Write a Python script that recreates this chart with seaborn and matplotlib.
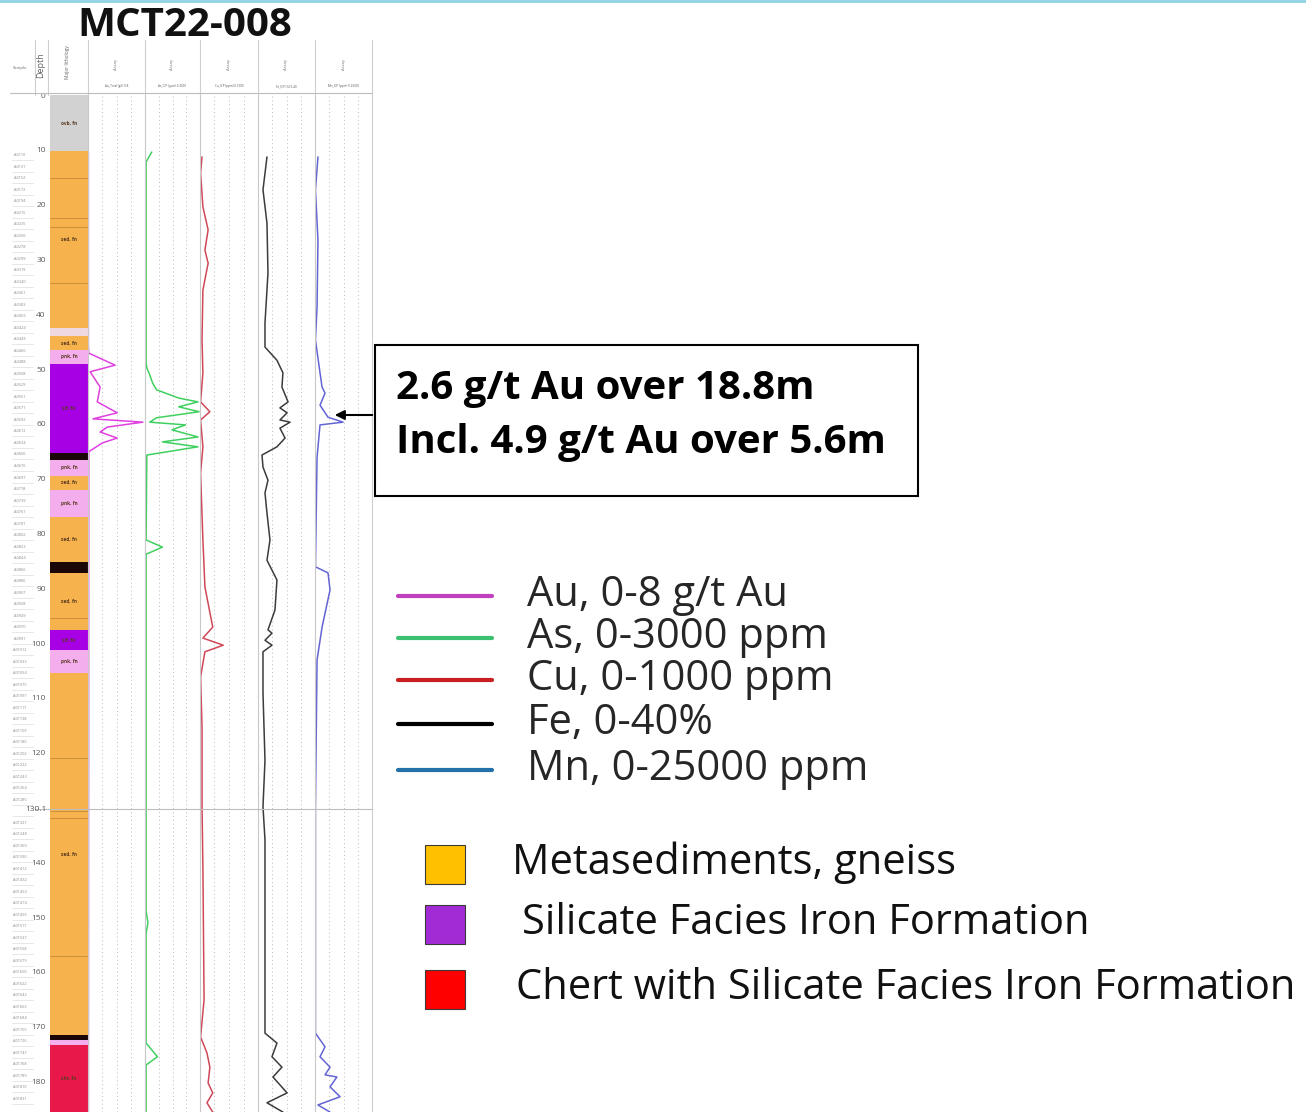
import numpy as np
import matplotlib
matplotlib.use("Agg")
import matplotlib.pyplot as plt
import matplotlib.patches as mpatches
import seaborn as sns

W, H = 1306, 1112
TOP_Y, BOT_Y = 95, 1112
PX_PER_M = 5.48
D_MAX = (BOT_Y - TOP_Y) / PX_PER_M

# lithology intervals (m)
lith_top = [0, 10.2, 42.5, 44.0, 46.5, 49.0, 65.3, 66.6, 69.5, 72.0, 77.0, 85.2, 87.2,
            97.6, 101.3, 105.5, 171.5, 172.4, 173.4]
lith_bot = [10.2, 42.5, 44.0, 46.5, 49.0, 65.3, 66.6, 69.5, 72.0, 77.0, 85.2, 87.2, 97.6,
            101.3, 105.5, 171.5, 172.4, 173.4, 185.6]
lith_code = ['OVB', 'SED', 'MIX', 'SED', 'PNK', 'SIF', 'BLK', 'PNK', 'SED', 'PNK', 'SED', 'BLK',
             'SED', 'SIF', 'PNK', 'SED', 'BLK', 'PNK', 'CHT']
lith_sub = [15.1, 22.4, 24.0, 34.3, 95.5, 121.0, 130.7, 131.9, 157.2]

# assay curves (depth m, value)
au_depth = [10.4, 45.6, 47.1, 49.3, 50.5, 53.3, 56.0, 58.0, 59.1, 59.7, 60.6, 61.5, 62.6, 63.5, 65.1, 185.6]
au_val = [0.05, 0.05, 0.1, 3.8, 0.3, 1.7, 1.3, 4.1, 0.7, 7.7, 2.7, 1.7, 4.1, 2.0, 0.1, 0.05]

as_depth = [10.4, 12.2, 49.0, 49.8, 51.1, 52.6, 53.8, 55.3, 56.0, 56.9, 57.8, 58.9, 59.7, 60.2,
            61.1, 62.4, 63.3, 64.2, 65.7, 81.2, 82.5, 83.8, 149.0, 151.0, 153.0, 173.0, 175.5,
            177.0, 185.6]
as_val = [370, 60, 60, 100, 260, 420, 630, 1840, 2890, 1840, 2950, 630, 260, 2210,
          1470, 2890, 950, 2890, 100, 60, 950, 60, 60, 160, 60, 60, 680,
          60, 60]

cu_depth = [11.3, 14.2, 20.4, 24.6, 28.3, 30.7, 35.6, 44.7, 50.7, 56.0, 57.8, 59.3, 64.2, 69.0,
            81.2, 89.8, 97.1, 99.1, 100.4, 101.6, 106.2, 115.3, 129.9, 140.9, 165.1, 171.9,
            174.8, 177.4, 180.3, 182.1, 183.9, 185.6]
cu_val = [35, 10, 50, 140, 85, 140, 50, 35, 50, 10, 170, 10, 50, 10,
          50, 85, 220, 50, 400, 85, 10, 35, 35, 50, 70, 10,
          120, 170, 140, 220, 120, 220]

fe_depth = [11.3, 17.3, 23.4, 32.5, 41.6, 46.0, 48.4, 50.7, 53.3, 56.0, 57.1, 58.0, 59.3, 59.7,
            60.8, 62.6, 64.2, 65.7, 67.9, 70.3, 72.6, 76.3, 81.2, 84.9, 88.5, 94.0, 97.6, 98.2,
            99.5, 100.4, 101.6, 109.1, 121.4, 129.9, 135.9, 171.2, 173.0, 175.5, 177.4, 179.2,
            182.1, 183.9, 185.6]
fe_val = [6.3, 3.5, 6.3, 7.0, 4.9, 4.9, 13.3, 17.5, 16.8, 21.1, 15.4, 20.4, 15.4, 22.5,
          15.4, 19.0, 13.3, 2.8, 3.5, 7.0, 4.9, 6.3, 8.4, 6.3, 13.3, 11.9, 7.0, 9.8,
          4.9, 9.8, 3.5, 3.5, 4.9, 3.5, 4.9, 4.9, 13.3, 9.8, 16.8, 10.5,
          20.4, 6.3, 17.5]

mn_depth = [11.3, 17.3, 26.5, 38.7, 44.7, 50.7, 53.3, 54.4, 56.6, 58.8, 59.7, 60.2, 66.1, 86.1,
            87.2, 90.3, 97.1, 103.1, 129.9, 171.2, 173.7, 175.5, 177.4, 178.8, 179.2, 181.0,
            182.8, 184.3, 185.6]
mn_val = [1300, 200, 1300, 900, 200, 2200, 3100, 4400, 2200, 5700, 12300, 2200, 900, 200,
          5700, 6600, 3100, 900, 200, 200, 4400, 2200, 6600, 4400, 9600, 6600,
          11000, 1300, 6600]

depth_ticks = [0, 10, 20, 30, 40, 50, 60, 70, 80, 90, 100, 110, 120, 140, 150, 160, 170, 180]
break_depth = 130.3
break_label = '130.1'

legend_labels = ['Au, 0-8 g/t Au', 'As, 0-3000 ppm', 'Cu, 0-1000 ppm', 'Fe, 0-40%', 'Mn, 0-25000 ppm']
legend_colors = ['#C040C0', '#3CC070', '#C82020', '#000000', '#2470A8']
lith_labels = ['Metasediments, gneiss', 'Silicate Facies Iron Formation',
               'Chert with Silicate Facies Iron Formation']
lith_legend_colors = ['#FFC000', '#A32BD6', '#FF0000']

lith_colors = {'OVB': '#D2D2D2', 'SED': '#F6B24C', 'MIX': '#F0D8E0', 'PNK': '#F4AEEE',
               'SIF': '#A800E4', 'BLK': '#1A0606', 'CHT': '#E8184A'}

tracks = [
    ('Au_Total (g/t)', au_depth, au_val, 8, '#E040E0', 88, 145),
    ('As_ICP (ppm)', as_depth, as_val, 3000, '#40D060', 145, 200),
    ('Cu_ICP (ppm)', cu_depth, cu_val, 1000, '#D04858', 200, 258),
    ('Fe_ICP (%)', fe_depth, fe_val, 40, '#3C3C3C', 258, 315),
    ('Mn_ICP (ppm)', mn_depth, mn_val, 25000, '#6464D4', 315, 372),
]

sns.set_theme(style="white")
plt.rcParams['font.family'] = ['Open Sans', 'DejaVu Sans']


def px_rect(x0, y0, x1, y1):
    return [x0 / W, 1 - y1 / H, (x1 - x0) / W, (y1 - y0) / H]


def py(d):
    return TOP_Y + d * PX_PER_M


fig = plt.figure(figsize=(W / 100, H / 100), dpi=100)
fig.patch.set_facecolor('white')

# lithology column
ax_l = fig.add_axes(px_rect(50, TOP_Y, 88, BOT_Y))
heights = [b - t for t, b in zip(lith_top, lith_bot)]
ax_l.bar(x=[0.5] * len(lith_top), height=heights, bottom=lith_top, width=1.0,
         color=[lith_colors[c] for c in lith_code], linewidth=0)
for d in lith_sub:
    ax_l.axhline(d, color='#C48A3A', lw=0.6)
for t, b, c in zip(lith_top, lith_bot, lith_code):
    if c != 'BLK' and b - t > 1.5:
        ax_l.text(0.5, (t + b) / 2, c.lower() + ', fn', fontsize=3.4, fontweight='bold',
                  ha='center', va='center', color='#5A3A20')
ax_l.set_xlim(0, 1)
ax_l.set_ylim(D_MAX, 0)
ax_l.set_xticks([])
ax_l.set_yticks(depth_ticks)
ax_l.tick_params(axis='y', length=0, pad=3, labelsize=6, labelcolor='#5A5A5A')
for s in ax_l.spines.values():
    s.set_visible(False)

# assay tracks
for name, dep, val, vmax, col, x0, x1 in tracks:
    ax = fig.add_axes(px_rect(x0, TOP_Y, x1, BOT_Y))
    for q in (0.25, 0.5, 0.75):
        ax.axvline(vmax * q, color='#B8B8B8', lw=0.7, ls=(0, (1, 3)))
    sns.lineplot(x=val, y=dep, orient='y', sort=False, estimator=None,
                 color=col, lw=1.1, ax=ax)
    ax.set_xlim(0, vmax)
    ax.set_ylim(D_MAX, 0)
    ax.set_xticks([])
    ax.set_yticks([])
    ax.set_xlabel('')
    ax.set_ylabel('')
    ax.patch.set_alpha(0)
    for s in ('top', 'bottom', 'right'):
        ax.spines[s].set_visible(False)
    ax.spines['left'].set_color('#C8C8C8')
    ax.spines['left'].set_linewidth(0.8)

# overlay in pixel coordinates for header, annotation and legends
ov = fig.add_axes([0, 0, 1, 1])
ov.set_xlim(0, W)
ov.set_ylim(H, 0)
ov.axis('off')
ov.patch.set_alpha(0)

# top border
ov.plot([0, W], [1, 1], color='#8ED3E2', lw=2)

# title
ov.text(185, 26, 'MCT22-008', fontsize=29, fontweight='bold', ha='center', va='center',
        color='#111111')

# header grid
for x in (35, 48, 88, 145, 200, 258, 315, 372):
    ov.plot([x, x], [40, TOP_Y], color='#CFCFCF', lw=0.8)
ov.plot([372, 372], [TOP_Y, BOT_Y], color='#CFCFCF', lw=0.8)
ov.plot([10, 372], [93, 93], color='#BDBDBD', lw=0.8)
ov.plot([35, 372], [py(break_depth), py(break_depth)], color='#BDBDBD', lw=0.8)
ov.text(47, py(break_depth), break_label, fontsize=6, ha='right', va='center', color='#5A5A5A')
ov.text(20, 68, 'Sample', fontsize=3, ha='center', va='center', color='#666666')
ov.text(41, 65, 'Depth', fontsize=6.5, rotation=90, ha='center', va='center', color='#666666')
ov.text(68, 62, 'Major lithology', fontsize=3.5, rotation=90, ha='center', va='center',
        color='#666666')
for name, dep, val, vmax, col, x0, x1 in tracks:
    xc = (x0 + x1) / 2
    ov.text(xc, 65, 'Assay', fontsize=3, rotation=90, ha='center', va='center', color='#777777')
    ov.text(xc, 86, name + ' 0-' + str(vmax), fontsize=2.2, ha='center', va='center',
            color='#555555')

# sample interval column
for d in np.arange(11, 185, 2.1):
    ov.plot([12, 33], [py(d) + 5, py(d) + 5], color='#DDDDDD', lw=0.5)
    if abs(d - break_depth) > 1.6:
        ov.text(20, py(d), 'A0' + str(int(d * 10)), fontsize=2.8, ha='center', va='center',
                color='#8A8A8A')

# annotation box
ov.add_patch(mpatches.Rectangle((375, 345), 543, 151, fill=False, ec='black', lw=1.5))
ov.text(396, 388, '2.6 g/t Au over 18.8m', fontsize=29, fontweight='bold', ha='left',
        va='center', color='black')
ov.text(396, 443, 'Incl. 4.9 g/t Au over 5.6m', fontsize=29, fontweight='bold', ha='left',
        va='center', color='black')
ov.annotate('', xy=(332, 415), xytext=(375, 415),
            arrowprops=dict(arrowstyle='-|>', color='black', lw=1.5, mutation_scale=14))

# element legend
leg_y = [596, 638, 680, 724, 770]
for lab, col, y in zip(legend_labels, legend_colors, leg_y):
    ov.plot([398, 492], [y, y], color=col, lw=3)
    ov.text(527, y - 1, lab, fontsize=30, ha='left', va='center', color='#262626')

# lithology legend
sq_y = [845, 905, 970]
txt_x = [512, 522, 516]
for lab, col, y, tx in zip(lith_labels, lith_legend_colors, sq_y, txt_x):
    ov.add_patch(mpatches.Rectangle((425, y), 40, 39, fc=col, ec='#3A3A3A', lw=0.8))
    ov.text(tx, y + 18, lab, fontsize=30, ha='left', va='center', color='#111111')

fig.savefig('out.png', dpi=100)
